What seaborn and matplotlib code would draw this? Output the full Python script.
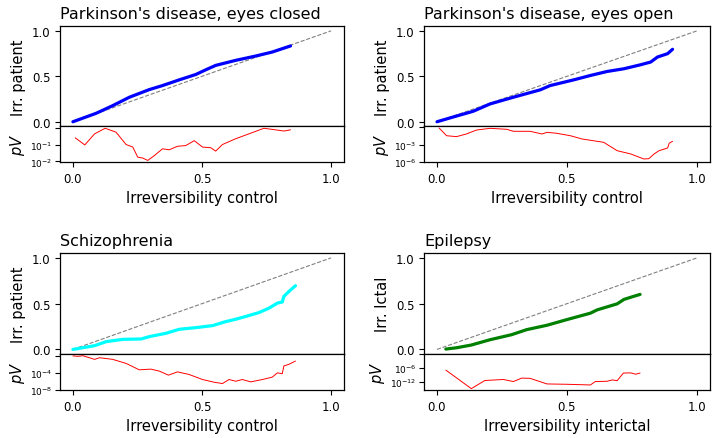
import matplotlib
matplotlib.use("Agg")
import matplotlib.pyplot as plt
import seaborn as sns

# curves: irreversibility control (x) vs patient (y)
pd_closed_x = [0.0, 0.09, 0.154, 0.219, 0.296, 0.347, 0.412, 0.476, 0.515, 0.553, 0.63, 0.708, 0.772, 0.843]
pd_closed_y = [0.0, 0.093, 0.177, 0.27, 0.354, 0.398, 0.461, 0.52, 0.572, 0.62, 0.675, 0.723, 0.767, 0.834]
pd_closed_px = [0.009, 0.046, 0.084, 0.125, 0.167, 0.206, 0.232, 0.251, 0.27, 0.29, 0.315, 0.347, 0.373,
                0.405, 0.437, 0.47, 0.502, 0.534, 0.553, 0.579, 0.63, 0.682, 0.74, 0.785, 0.817, 0.843]
pd_closed_pv = [0.25, 0.095, 0.43, 0.92, 0.54, 0.10, 0.071, 0.018, 0.016, 0.0115, 0.022, 0.056, 0.049,
                0.079, 0.087, 0.17, 0.071, 0.065, 0.041, 0.10, 0.22, 0.43, 0.92, 0.74, 0.63, 0.74]

pd_open_x = [0.0, 0.057, 0.139, 0.204, 0.294, 0.397, 0.435, 0.526, 0.59, 0.654, 0.719, 0.783, 0.822, 0.848, 0.887, 0.906]
pd_open_y = [0.0, 0.048, 0.115, 0.196, 0.27, 0.351, 0.398, 0.461, 0.509, 0.553, 0.583, 0.627, 0.657, 0.712, 0.749, 0.797]
pd_open_px = [0.008, 0.037, 0.075, 0.113, 0.152, 0.204, 0.268, 0.294, 0.358, 0.404, 0.423, 0.461, 0.513,
              0.558, 0.641, 0.693, 0.745, 0.796, 0.815, 0.835, 0.854, 0.887, 0.893, 0.906]
pd_open_pv = [0.79, 0.036, 0.025, 0.072, 0.35, 0.69, 0.47, 0.21, 0.21, 0.072, 0.14, 0.095, 0.036,
              0.0098, 2.6e-3, 9.1e-5, 2.5e-5, 3.3e-6, 3.8e-6, 2.5e-5, 9.1e-5, 2.7e-4, 1.8e-3, 3.9e-3]

scz_x = [0.0, 0.039, 0.084, 0.129, 0.193, 0.264, 0.296, 0.36, 0.412, 0.476, 0.541, 0.592, 0.631, 0.669,
         0.721, 0.759, 0.792, 0.811, 0.817, 0.837, 0.862]
scz_y = [0.0, 0.019, 0.041, 0.085, 0.11, 0.114, 0.14, 0.176, 0.22, 0.238, 0.26, 0.304, 0.33, 0.36,
         0.403, 0.45, 0.506, 0.518, 0.579, 0.634, 0.696]
scz_px = [0.0, 0.019, 0.039, 0.084, 0.103, 0.154, 0.206, 0.257, 0.302, 0.335, 0.37, 0.405, 0.45, 0.502,
          0.547, 0.579, 0.605, 0.631, 0.656, 0.689, 0.734, 0.772, 0.792, 0.811, 0.817, 0.837, 0.862]
scz_pv = [0.9, 0.72, 0.98, 0.14, 0.34, 0.14, 0.016, 5.1e-4, 7.4e-4, 2.5e-4, 2.9e-5, 1.7e-4, 4.2e-5, 2.8e-6,
          6.5e-7, 3.2e-7, 2.8e-6, 1.1e-6, 2.8e-6, 7.9e-7, 2.8e-6, 1e-5, 1e-4, 6.3e-5, 4e-3, 1e-2, 5.6e-2]

epi_x = [0.034, 0.075, 0.132, 0.204, 0.287, 0.345, 0.423, 0.5, 0.59, 0.616, 0.693, 0.719, 0.751, 0.781]
epi_y = [0.004, 0.018, 0.048, 0.106, 0.161, 0.216, 0.264, 0.326, 0.396, 0.432, 0.498, 0.546, 0.575, 0.601]
epi_px = [0.034, 0.132, 0.184, 0.255, 0.294, 0.326, 0.358, 0.423, 0.5, 0.59, 0.609, 0.654, 0.674, 0.693,
          0.717, 0.745, 0.764, 0.781]
epi_pv = [1e-7, 8e-16, 2.8e-12, 7.9e-12, 1e-12, 3.2e-11, 2.5e-11, 8.9e-14, 6.3e-14, 3.2e-14, 1e-12, 1.3e-12,
          5e-12, 2.5e-12, 5e-9, 6.3e-9, 1.6e-9, 5e-9]

diag = [0, 1]

panels = [
    ("Parkinson's disease, eyes closed", pd_closed_x, pd_closed_y, pd_closed_px, pd_closed_pv, "blue",
     "Irr. patient", "Irreversibility control", (0.0093, 1.2), [1e-2, 1e-1, 1], ["$10^{-2}$", "$10^{-1}$", ""]),
    ("Parkinson's disease, eyes open", pd_open_x, pd_open_y, pd_open_px, pd_open_pv, "blue",
     "Irr. patient", "Irreversibility control", (1e-6, 1.55), [1e-6, 1e-3, 1], ["$10^{-6}$", "$10^{-3}$", ""]),
    ("Schizophrenia", scz_x, scz_y, scz_px, scz_pv, "cyan",
     "Irr. patient", "Irreversibility control", (1e-8, 2.5), [1e-8, 1e-4, 1], ["$10^{-8}$", "$10^{-4}$", ""]),
    ("Epilepsy", epi_x, epi_y, epi_px, epi_pv, "green",
     "Irr. Ictal", "Irreversibility interictal", (2e-16, 1.1), [1e-12, 1e-6, 1], ["$10^{-12}$", "$10^{-6}$", ""]),
]

sns.set_style("ticks")
plt.rcParams["font.family"] = ["DejaVu Sans"]
plt.rcParams["text.color"] = "black"
plt.rcParams["axes.labelcolor"] = "black"
plt.rcParams["xtick.color"] = "black"
plt.rcParams["ytick.color"] = "black"

W, H = 717, 439
fig = plt.figure(figsize=(W / 100, H / 100), dpi=100)

# pixel boxes: left, right, top, divider, bottom
boxes = [(60, 344, 27.3, 127.3, 163), (424, 710, 27.3, 127.3, 163),
         (60, 344, 254.3, 355, 391), (424, 710, 254.3, 355, 391)]

for (title, x, y, px, pv, col, ylab, xlab, ylim, yt, ytl), (l, r, t, d, b) in zip(panels, boxes):
    ax = fig.add_axes([l / W, 1 - d / H, (r - l) / W, (d - t) / H])
    axp = fig.add_axes([l / W, 1 - b / H, (r - l) / W, (b - d) / H], sharex=ax)

    sns.lineplot(x=diag, y=diag, ax=ax, color="gray", lw=0.8, linestyle="--")
    sns.lineplot(x=x, y=y, ax=ax, color=col, lw=2.3, sort=False)
    ax.set_xlim(-0.05, 1.05)
    ax.set_ylim(-0.05, 1.05)
    ax.set_yticks([0, 0.5, 1.0])
    ax.set_yticklabels(["0.0", "0.5", "1.0"])
    ax.tick_params(axis="x", bottom=False, labelbottom=False)
    ax.tick_params(axis="y", labelsize=8.5)
    for s in ax.spines.values():
        s.set_visible(True)
        s.set_color("black")
        s.set_linewidth(0.9)
    ax.set_title(title, loc="left", fontsize=11.5)
    ax.set_ylabel(ylab, fontsize=10.5)

    sns.lineplot(x=px, y=pv, ax=axp, color="red", lw=0.7, sort=False)
    axp.set_yscale("log")
    axp.set_ylim(*ylim)
    axp.set_yticks(yt)
    axp.set_yticklabels(ytl)
    axp.minorticks_off()
    axp.tick_params(axis="y", labelsize=6.5, pad=2)
    axp.tick_params(axis="x", labelsize=8.5)
    axp.set_xticks([0, 0.5, 1.0])
    axp.set_xticklabels(["0.0", "0.5", "1.0"])
    for s in axp.spines.values():
        s.set_visible(True)
        s.set_color("black")
        s.set_linewidth(0.9)
    axp.set_ylabel("$pV$", fontsize=10.5, labelpad=2)
    axp.set_xlabel(xlab, fontsize=10.5)

fig.savefig("out.png", dpi=100)
